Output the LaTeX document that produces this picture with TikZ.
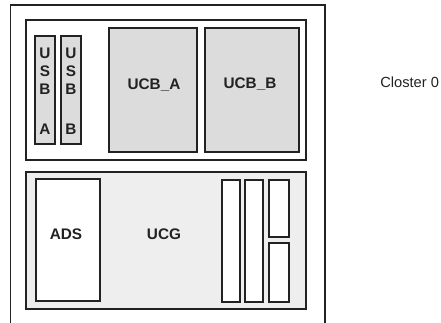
\documentclass[tikz,border=0pt]{standalone}
\usepackage{fontspec}
\setmainfont{Liberation Sans}
\definecolor{linegray}{HTML}{222222}
\definecolor{ucbfill}{HTML}{DCDCDC}
\definecolor{ucgfill}{HTML}{EEEEEE}
\begin{document}
\begin{tikzpicture}[x=0.75pt,y=-0.75pt,
    frame/.style={draw=linegray, line width=1.4pt},
    lbl/.style={font=\bfseries\fontsize{11.5}{12}\selectfont, text=linegray, inner sep=0pt}]

  \useasboundingbox (0,0) rectangle (441,322);
  \clip (0,0) rectangle (441,322);

  % baie
  \draw[frame] (10.5,335) -- (10.5,5) -- (325,5) -- (325,335);

  % partie haute
  \draw[frame] (26,20) rectangle (306,160);
  \draw[frame, fill=ucbfill] (35,36) rectangle (55,144);
  \draw[frame, fill=ucbfill] (61,36) rectangle (81,144);
  \draw[frame, fill=ucbfill] (109,28) rectangle (197,152);
  \draw[frame, fill=ucbfill] (205,28) rectangle (299,152);

  \node[lbl] (usba) at (45,53) {U};
  \node[lbl] at (45,71) {S};
  \node[lbl] at (45,89) {B};
  \node[lbl] at (45,129) {A};
  \node[lbl] (usbb) at (71,53) {U};
  \node[lbl] at (71,71) {S};
  \node[lbl] at (71,89) {B};
  \node[lbl] at (71,129) {B};
  \node[lbl] (ucba) at (154,85) {UCB\_A};
  \node[lbl] (ucbb) at (250,84) {UCB\_B};

  % partie basse
  \draw[frame, fill=ucgfill] (26,172) rectangle (306,309);
  \draw[frame, fill=white] (36,179) rectangle (100,301);
  \draw[frame, fill=white] (222,180) rectangle (240,302);
  \draw[frame, fill=white] (245,180) rectangle (263,302);
  \draw[frame, fill=white] (269,180) rectangle (289,237);
  \draw[frame, fill=white] (269,243) rectangle (289,302);

  \node[lbl] (ads) at (66,234.5) {ADS};
  \node[lbl] (ucg) at (164,234.5) {UCG};

  % titre
  \node[font=\fontsize{11}{12}\selectfont, text=linegray, anchor=west, inner sep=0pt] (closter) at (380,82) {Closter 0};

\end{tikzpicture}
\end{document}
